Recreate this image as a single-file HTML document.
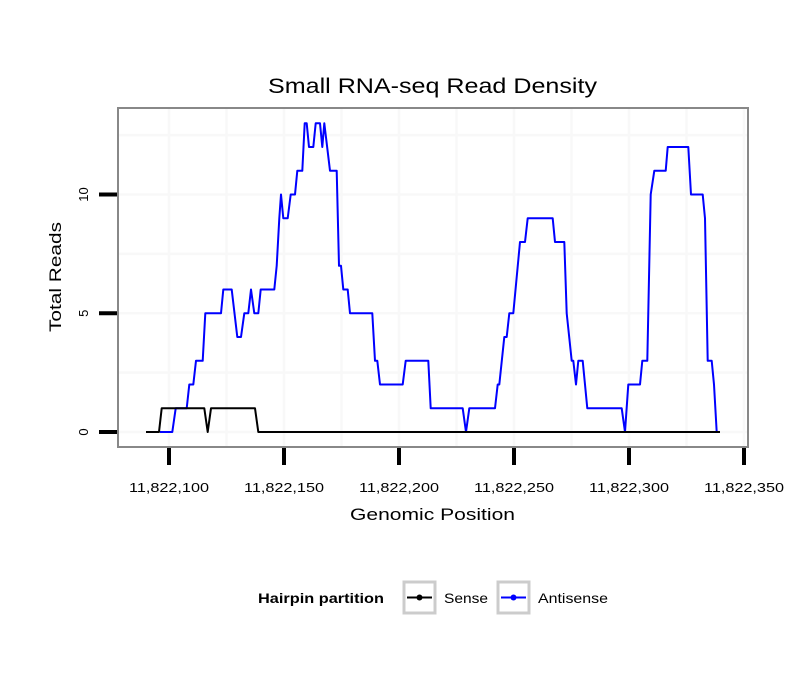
<!DOCTYPE html>
<html><head><meta charset="utf-8"><style>
body{margin:0;background:#fff;}
svg{display:block;font-family:"Liberation Sans",sans-serif;}
</style></head><body>
<svg id="chart" width="810" height="690">
<text x="432.5" y="93" text-anchor="middle" font-size="21" textLength="329" lengthAdjust="spacingAndGlyphs">Small RNA-seq Read Density</text>
<text transform="translate(61,277) rotate(-90)" text-anchor="middle" font-size="17" textLength="110" lengthAdjust="spacingAndGlyphs">Total Reads</text>
<text x="432.5" y="520" text-anchor="middle" font-size="17" textLength="165" lengthAdjust="spacingAndGlyphs">Genomic Position</text>
<g id="grid"></g><g id="series"></g><g id="axes"></g>
<g>
<text x="258" y="603" font-size="14" font-weight="bold" textLength="126" lengthAdjust="spacingAndGlyphs">Hairpin partition</text>
<g>
<rect x="404" y="582" width="31" height="31" fill="#fff" stroke="#ccc" stroke-width="3"/>
<line x1="407" y1="597.5" x2="432" y2="597.5" stroke="#000" stroke-width="2"/><circle cx="419.5" cy="597.5" r="3" fill="#000"/>
<text x="444" y="603" font-size="14" textLength="44" lengthAdjust="spacingAndGlyphs">Sense</text></g>
<g>
<rect x="498" y="582" width="31" height="31" fill="#fff" stroke="#ccc" stroke-width="3"/>
<line x1="501" y1="597.5" x2="526" y2="597.5" stroke="#00f" stroke-width="2"/><circle cx="513.5" cy="597.5" r="3" fill="#00f"/>
<text x="538" y="603" font-size="14" textLength="70" lengthAdjust="spacingAndGlyphs">Antisense</text></g>
</g>
</svg>
<script>
const senseX=[90,95.65,96.83,115.35,116.83,118.26,137.39,138.83,339.57];
const senseY=[0,0,1,1,0,1,1,0,0];
const antiX=[96.09,101.43,102.91,107.70,108.83,110.57,111.74,114.65,115.78,122.61,123.61,127.26,129.70,131.30,132.74,134.48,135.65,137.09,138.83,139.87,145.78,146.83,147.96,148.70,149.70,151.61,152.91,154.78,155.78,157.96,159.0,159.87,160.87,162.74,163.78,165.65,166.65,167.52,170.0,172.91,173.91,174.78,175.78,177.70,178.70,188.39,189.57,190.57,191.74,201.61,202.91,212.74,213.78,227.70,229.13,230.57,241.74,242.91,243.61,245.78,246.83,247.96,249.70,252.61,254.78,255.96,266.83,267.83,271.87,272.91,275.09,275.78,276.96,277.96,279.87,281.87,296.83,298.26,299.70,304.78,305.78,307.96,309.43,311.0,315.96,316.83,325.78,326.96,332.04,333.04,334.22,335.96,336.96,338.13];
const antiY=[0,0,1,1,2,2,3,3,5,5,6,6,4,4,5,5,6,5,5,6,6,7,9,10,9,9,10,10,11,11,13,13,12,12,13,13,12,13,11,11,7,7,6,6,5,5,3,3,2,2,3,3,1,1,0,1,1,2,2,4,4,5,5,8,8,9,9,8,8,5,3,3,2,3,3,1,1,0,2,2,3,3,10,11,11,12,12,10,10,9,3,3,2,0];
const xTicks=[100,150,200,250,300,350];
const xTickLabels=["11,822,100","11,822,150","11,822,200","11,822,250","11,822,300","11,822,350"];
const yTicks=[0,5,10];
const yTickLabels=["0","5","10"];
const xs=v=>169+(v-100)*2.3;
const ys=v=>432-v*23.75;
const NS="http://www.w3.org/2000/svg";
function mk(t,a,p){const e=document.createElementNS(NS,t);for(const k in a)e.setAttribute(k,a[k]);p.appendChild(e);return e;}
const grid=document.getElementById('grid'),ser=document.getElementById('series'),ax=document.getElementById('axes');
const bg=mk('rect',{x:118,y:108,width:630,height:339,fill:'#fff'},grid);


for(let v=100;v<=350;v+=25){const l=mk('line',{x1:xs(v),x2:xs(v),y1:109,y2:446,stroke:'#f8f8f8','stroke-width':2.5},grid);

}
for(let v=0;v<=12.5;v+=2.5){const l=mk('line',{x1:119,x2:747,y1:ys(v),y2:ys(v),stroke:'#f8f8f8','stroke-width':2.5},grid);

}
function path(X,Y,c,name){let d='';X.forEach((x,i)=>d+=(i?'L':'M')+xs(x).toFixed(1)+','+ys(Y[i]).toFixed(1));
const p=mk('path',{d:d,fill:'none',stroke:c,'stroke-width':2,'stroke-linejoin':'round'},ser);

}
path(antiX,antiY,'#0000ff','antisense-line');
path(senseX,senseY,'#000000','sense-line');
const fr=mk('rect',{x:118,y:108,width:630,height:339,fill:'none',stroke:'#888','stroke-width':2},ax);


xTicks.forEach((v,i)=>{const t=mk('line',{x1:xs(v),x2:xs(v),y1:448,y2:465,stroke:'#000','stroke-width':4},ax);


const l=mk('text',{x:xs(v),y:492,'text-anchor':'middle','font-size':13,textLength:80,lengthAdjust:'spacingAndGlyphs'},ax);l.textContent=xTickLabels[i];

});
yTicks.forEach((v,i)=>{const t=mk('line',{x1:99,x2:117,y1:ys(v),y2:ys(v),stroke:'#000','stroke-width':4},ax);


const l=mk('text',{transform:`translate(88,${ys(v)}) rotate(-90)`,'text-anchor':'middle','font-size':13},ax);l.textContent=yTickLabels[i];

});
</script>
</body></html>
